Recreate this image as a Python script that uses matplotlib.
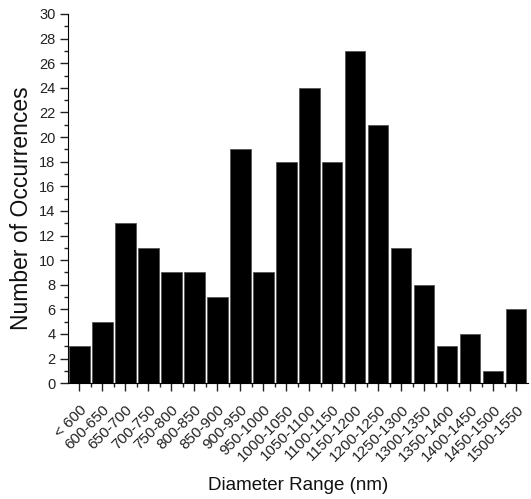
import numpy as np
import matplotlib.pyplot as plt
from matplotlib.ticker import MultipleLocator

plt.rcParams['font.family'] = ['Liberation Sans', 'DejaVu Sans']

ranges = ['< 600', '600-650', '650-700', '700-750', '750-800', '800-850', '850-900',
          '900-950', '950-1000', '1000-1050', '1050-1100', '1100-1150', '1150-1200',
          '1200-1250', '1250-1300', '1300-1350', '1350-1400', '1400-1450',
          '1450-1500', '1500-1550']
counts = [3, 5, 13, 11, 9, 9, 7, 19, 9, 18, 24, 18, 27, 21, 11, 8, 3, 4, 1, 6]

fig = plt.figure(figsize=(5.31, 4.99), dpi=100)
ax = fig.add_axes([0.128, 0.232, 0.866, 0.74])

x = np.arange(len(ranges))
ax.bar(x, counts, width=0.88, color='black', edgecolor='#555555', linewidth=0.6)

ax.set_xlim(-0.5, len(ranges) - 0.5)
ax.set_ylim(0, 30)
ax.yaxis.set_major_locator(MultipleLocator(2))
ax.yaxis.set_minor_locator(MultipleLocator(1))
ax.set_xticks(x)
ax.set_xticks(x[:-1] + 0.5, minor=True)
ax.set_xticklabels(ranges, rotation=45, ha='right', rotation_mode='anchor')

ax.spines['top'].set_visible(False)
ax.spines['right'].set_visible(False)
ax.tick_params(which='major', length=6, width=1, labelsize=10.5, pad=3, colors='#222222')
ax.tick_params(axis='x', which='major', labelsize=11, pad=8)
ax.tick_params(which='minor', length=3, width=1, colors='#222222')

ax.set_xlabel('Diameter Range (nm)', fontsize=13.5, color='#111111')
ax.xaxis.set_label_coords(0.5, -0.255)
ax.set_ylabel('Number of Occurrences', fontsize=16.5, color='#111111')
ax.yaxis.set_label_coords(-0.076, 0.474)

fig.savefig('out.png', dpi=100)
